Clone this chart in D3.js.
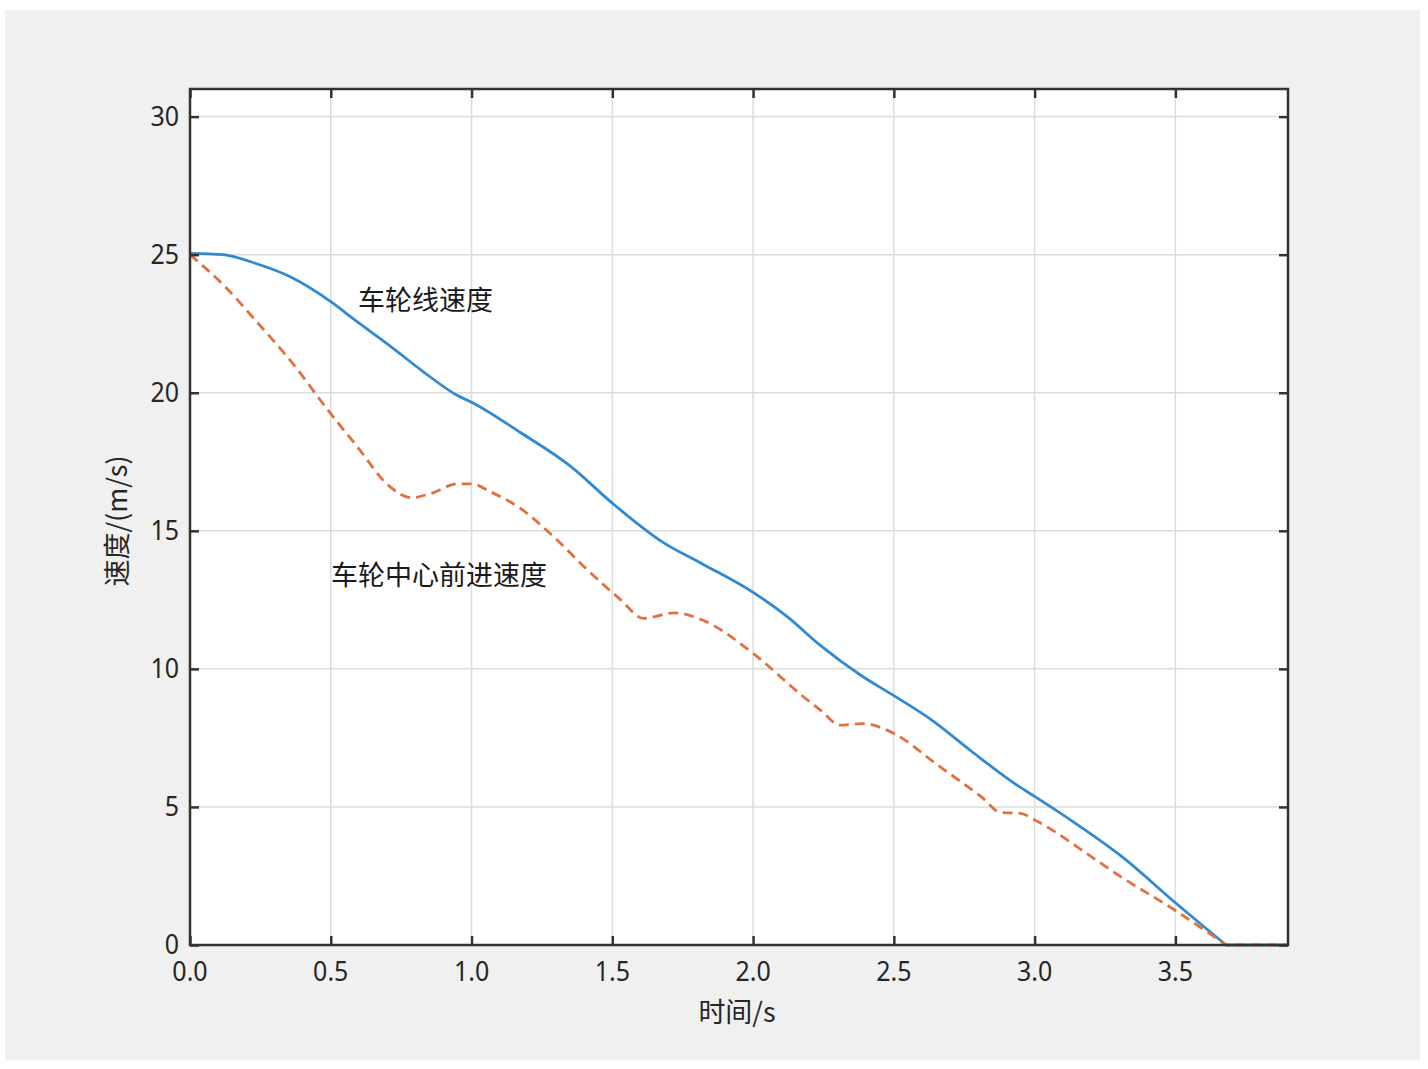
<!DOCTYPE html>
<html>
<head>
<meta charset="utf-8">
<script src="https://cdn.jsdelivr.net/npm/d3@7"></script>
<style>
  html, body { margin: 0; padding: 0; background: #ffffff; }
  svg { display: block; }
</style>
</head>
<body>
<svg id="chart" width="1428" height="1069"></svg>
<script>
// ---- data ----
const wheelTime  = [0, 0.117, 0.237, 0.356, 0.5, 0.59, 0.71, 0.83, 0.95, 1.0, 1.175, 1.35, 1.5, 1.68, 1.82, 2.0, 2.12, 2.24, 2.385, 2.5, 2.63, 2.78, 2.94, 3.0, 3.14, 3.31, 3.5, 3.68, 3.9];
const wheelSpeed = [25.05, 25.0, 24.67, 24.2, 23.3, 22.6, 21.7, 20.75, 19.9, 19.66, 18.55, 17.35, 16.0, 14.58, 13.8, 12.77, 11.9, 10.84, 9.75, 9.03, 8.18, 6.98, 5.77, 5.38, 4.44, 3.2, 1.53, 0, 0];

const centerTime  = [0, 0.119, 0.237, 0.356, 0.5, 0.59, 0.71, 0.785, 0.855, 0.95, 1.0, 1.07, 1.175, 1.29, 1.41, 1.53, 1.61, 1.72, 1.82, 2.0, 2.18, 2.24, 2.31, 2.39, 2.5, 2.655, 2.81, 2.88, 2.95, 3.0, 3.21, 3.29, 3.5, 3.68, 3.9];
const centerSpeed = [25.0, 23.9, 22.57, 21.17, 19.24, 18.1, 16.6, 16.2, 16.35, 16.7, 16.7, 16.4, 15.8, 14.8, 13.6, 12.5, 11.83, 12.03, 11.77, 10.56, 8.98, 8.5, 7.96, 8.02, 7.66, 6.52, 5.37, 4.8, 4.77, 4.53, 3.14, 2.58, 1.25, 0, 0];

const xTicks = [0, 0.5, 1.0, 1.5, 2.0, 2.5, 3.0, 3.5];
const xTickLabels = ["0.0", "0.5", "1.0", "1.5", "2.0", "2.5", "3.0", "3.5"];
const yTicks = [0, 5, 10, 15, 20, 25, 30];
const yTickLabels = ["0", "5", "10", "15", "20", "25", "30"];

const xTitle = "时间/s";
const yTitle = "速度/(m/s)";
const wheelLabel = "车轮线速度";
const centerLabel = "车轮中心前进速度";

// ---- layout ----
const svg = d3.select("#chart");
const L = 190, R = 1288, T = 89, B = 945;
const x = d3.scaleLinear().domain([0, 3.9]).range([L, R]);
const y = d3.scaleLinear().domain([0, 31]).range([B, T]);

const fontLatin = "'Noto Sans', 'Noto Sans CJK SC', sans-serif";
const fontCJK = "'Noto Sans CJK SC', 'Noto Sans', sans-serif";
const textColor = "#262626";

svg.append("rect").attr("x", 5).attr("y", 10).attr("width", 1415).attr("height", 1050).attr("fill", "#f0f0f0");
svg.append("rect").attr("x", L).attr("y", T).attr("width", R - L).attr("height", B - T).attr("fill", "#ffffff");

// grid
const grid = svg.append("g");
grid.selectAll("line.gx").data(xTicks.filter(d => d > 0)).enter().append("line")
  .attr("x1", d => x(d)).attr("x2", d => x(d)).attr("y1", T).attr("y2", B)
  .attr("stroke", "#dcdcdc").attr("stroke-width", 1.5);
grid.selectAll("line.gy").data(yTicks.filter(d => d > 0)).enter().append("line")
  .attr("y1", d => y(d)).attr("y2", d => y(d)).attr("x1", L).attr("x2", R)
  .attr("stroke", "#dcdcdc").attr("stroke-width", 1.5);

// lines: smooth descending part, then the flat stopped part joined at the first zero
const smooth = d3.line().x(d => x(d[0])).y(d => y(d[1])).curve(d3.curveMonotoneX);
const straight = d3.line().x(d => x(d[0])).y(d => y(d[1]));
function pathFor(ts, vs) {
  const pts = ts.map((t, i) => [t, vs[i]]);
  const z = vs.indexOf(0);
  const a = smooth(pts.slice(0, z + 1));
  const b = straight(pts.slice(z));
  return a + b.replace(/^M[^L]*/, "");
}

svg.append("path").attr("d", pathFor(wheelTime, wheelSpeed))
  .attr("fill", "none").attr("stroke", "#2f8ad2").attr("stroke-width", 2.8)
  .attr("stroke-linejoin", "round");
svg.append("path").attr("d", pathFor(centerTime, centerSpeed))
  .attr("fill", "none").attr("stroke", "#e2703c").attr("stroke-width", 2.8)
  .attr("stroke-dasharray", "10,6");

// axes (ticks inward on all four sides)
const tickLen = 9;
const axBottom = d3.axisBottom(x).tickValues(xTicks).tickSize(-tickLen).tickFormat("");
const axTop = d3.axisTop(x).tickValues(xTicks).tickSize(-tickLen).tickFormat("");
const axLeft = d3.axisLeft(y).tickValues(yTicks).tickSize(-tickLen).tickFormat("");
const axRight = d3.axisRight(y).tickValues(yTicks).tickSize(-tickLen).tickFormat("");
function styleAxis(g) {
  g.select(".domain").remove();
  g.selectAll(".tick line").attr("stroke", "#333").attr("stroke-width", 2.5);
}
svg.append("g").attr("transform", `translate(0,${B})`).call(axBottom).call(styleAxis);
svg.append("g").attr("transform", `translate(0,${T})`).call(axTop).call(styleAxis);
svg.append("g").attr("transform", `translate(${L},0)`).call(axLeft).call(styleAxis);
svg.append("g").attr("transform", `translate(${R},0)`).call(axRight).call(styleAxis);

// frame
svg.append("rect").attr("x", L).attr("y", T).attr("width", R - L).attr("height", B - T)
  .attr("fill", "none").attr("stroke", "#333").attr("stroke-width", 2.5);

// tick labels
svg.append("g").selectAll("text").data(xTicks).enter().append("text")
  .attr("transform", d => `translate(${x(d)},${981}) scale(1,1.12)`)
  .attr("text-anchor", "middle").attr("font-family", fontLatin).attr("font-size", 25)
  .attr("fill", textColor).text((d, i) => xTickLabels[i]);
svg.append("g").selectAll("text").data(yTicks).enter().append("text")
  .attr("transform", d => `translate(${179},${y(d) + 9}) scale(1,1.12)`)
  .attr("text-anchor", "end").attr("font-family", fontLatin).attr("font-size", 25)
  .attr("fill", textColor).text((d, i) => yTickLabels[i]);

// axis titles
svg.append("text").attr("x", 737).attr("y", 1022).attr("text-anchor", "middle")
  .attr("font-family", fontCJK).attr("font-size", 27).attr("fill", textColor).text(xTitle);
svg.append("text").attr("transform", "translate(127,521) rotate(-90)").attr("text-anchor", "middle")
  .attr("font-family", fontCJK).attr("font-size", 27).attr("fill", textColor).text(yTitle);

// annotations
svg.append("text").attr("x", 358).attr("y", 310)
  .attr("font-family", fontCJK).attr("font-size", 27).attr("fill", "#1a1a1a").text(wheelLabel);
svg.append("text").attr("x", 331).attr("y", 585)
  .attr("font-family", fontCJK).attr("font-size", 27).attr("fill", "#1a1a1a").text(centerLabel);
</script>
</body>
</html>
